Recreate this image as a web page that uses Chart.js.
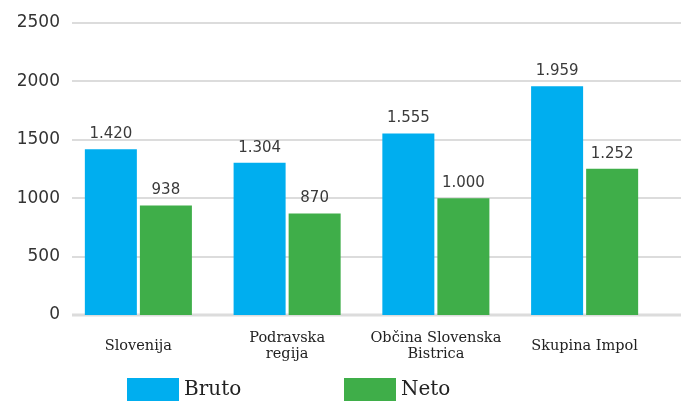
<!DOCTYPE html>
<html lang="sl">
<head>
  <meta charset="UTF-8">
  <title>Bruto / Neto plača</title>
  <script src="https://cdn.jsdelivr.net/npm/chart.js"></script>
  <style>
    html, body { margin: 0; padding: 0; background: #fff; }
    .wrap { width: 681px; height: 401px; }
  </style>
</head>
<body>
<div class="wrap"><canvas id="chart" width="681" height="401"></canvas></div>

<script>
const categories = [["Slovenija"], ["Podravska", "regija"], ["Občina Slovenska", "Bistrica"], ["Skupina Impol"]];
const bruto = [1420, 1304, 1555, 1959];
const neto = [938, 870, 1000, 1252];
const yTicks = [0, 500, 1000, 1500, 2000, 2500];

const numFont = "'DejaVu Sans', sans-serif";
const slabFont = "'DejaVu Serif', serif";

// number format like 1.420
function fmt(v) {
  return v.toString().replace(/\B(?=(\d{3})+(?!\d))/g, ".");
}

// horizontal grid lines, wider than the plot area
const gridLines = {
  id: 'gridLines',
  beforeDatasetsDraw(chart) {
    const ctx = chart.ctx, y = chart.scales.y;
    ctx.save();
    ctx.strokeStyle = '#dcdcdc';
    y.ticks.forEach(t => {
      const py = Math.round(y.getPixelForValue(t.value));
      ctx.lineWidth = t.value === 0 ? 3 : 2;
      ctx.beginPath();
      ctx.moveTo(72, py);
      ctx.lineTo(681, py);
      ctx.stroke();
    });
    ctx.restore();
  }
};

// value labels above the bars
const barLabels = {
  id: 'barLabels',
  afterDatasetsDraw(chart) {
    const ctx = chart.ctx;
    ctx.save();
    ctx.font = "15px " + numFont;
    ctx.fillStyle = '#3a3a3a';
    ctx.textAlign = 'center';
    ctx.textBaseline = 'alphabetic';
    chart.data.datasets.forEach((ds, i) => {
      chart.getDatasetMeta(i).data.forEach((bar, j) => {
        ctx.fillText(fmt(ds.data[j]), bar.x, bar.y - 11);
      });
    });
    ctx.restore();
  }
};

// legend at the bottom, left of centre
const bottomLegend = {
  id: 'bottomLegend',
  afterDraw(chart) {
    const ctx = chart.ctx;
    const xs = [127, 344];
    ctx.save();
    ctx.font = "20px " + slabFont;
    ctx.textBaseline = 'middle';
    ctx.textAlign = 'left';
    chart.data.datasets.forEach((ds, i) => {
      ctx.fillStyle = ds.backgroundColor;
      ctx.fillRect(xs[i], 378, 52, 23);
      ctx.fillStyle = '#222';
      ctx.fillText(ds.label, xs[i] + 57, 390);
    });
    ctx.restore();
  }
};

new Chart(document.getElementById('chart'), {
  type: 'bar',
  data: {
    labels: categories,
    datasets: [
      { label: 'Bruto', data: bruto, backgroundColor: '#00aeef' },
      { label: 'Neto', data: neto, backgroundColor: '#3fae49' }
    ]
  },
  options: {
    responsive: false,
    animation: false,
    layout: { padding: { top: 23, right: 22, bottom: 0, left: 0 } },
    categoryPercentage: 0.74,
    barPercentage: 0.945,
    plugins: {
      legend: { display: false },
      tooltip: { enabled: false }
    },
    scales: {
      x: {
        grid: { display: false, drawTicks: false },
        border: { display: false },
        ticks: {
          color: '#222',
          font: { family: slabFont, size: 14.5, lineHeight: 1.1 },
          padding: 23,
          crossAlign: 'center',
          maxRotation: 0,
          autoSkip: false
        },
        afterFit(s) { s.height = 86; }
      },
      y: {
        min: 0,
        max: 2500,
        grid: { display: false, drawTicks: false },
        border: { display: false },
        afterBuildTicks(s) { s.ticks = yTicks.map(v => ({ value: v })); },
        ticks: {
          color: '#333',
          font: { family: numFont, size: 17 },
          padding: 4,
          callback: v => String(v)
        },
        afterFit(s) { s.width = 64; }
      }
    }
  },
  plugins: [gridLines, barLabels, bottomLegend]
});
</script>
</body>
</html>
